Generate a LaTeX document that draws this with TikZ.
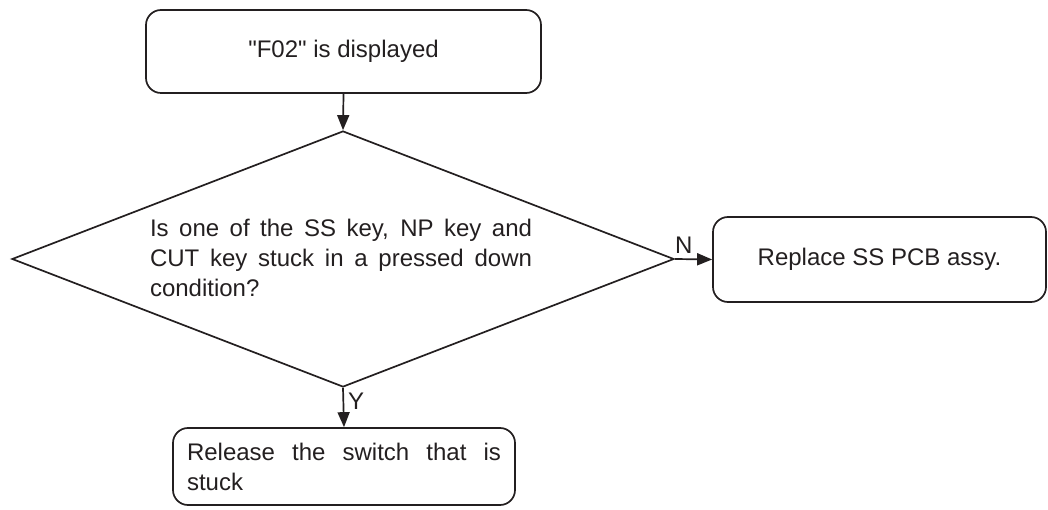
\documentclass[tikz,border=0pt]{standalone}
\usepackage{fontspec}
\newfontfamily\arialfam{Liberation Sans}
\usetikzlibrary{shapes.geometric,arrows.meta}
\definecolor{ink}{HTML}{231F20}
\begin{document}
\begin{tikzpicture}[x=1pt,y=-1pt,
  box/.style={draw=ink, line width=1.7pt, rounded corners=15pt, inner sep=0pt, font=\arialfam\fontsize{24}{30}\selectfont, text=ink},
  txt/.style={font=\arialfam\fontsize{24}{30}\selectfont, text=ink},
  arr/.style={draw=ink, line width=1.7pt, -{Triangle[length=15pt,width=12pt]}},
  just/.style={align=justify, execute at begin node={\hyphenpenalty=10000\tolerance=9999}}]
\useasboundingbox (0,0) rectangle (1048,510);
\node[box, minimum width=395pt, minimum height=83pt] (start) at (343.5,51.5) {"F02" is displayed};
\node[draw=ink, line width=1.7pt, diamond, minimum width=662pt, minimum height=256pt, inner sep=0pt] (dia) at (343,259) {};
\node[txt, just, text width=382pt, inner sep=0pt] (q) at (341,258) {Is one of the SS key, NP key and CUT key stuck in a pressed down condition?};
\node[box, minimum width=333pt, minimum height=85pt] (rep) at (879.5,259.5) {Replace SS PCB assy.};
\node[box, just, text width=314pt, inner xsep=14pt, minimum height=77pt] (rel) at (344,466.5) {Release the switch that is stuck};
\draw[arr] (start.south) -- (dia.north);
\draw[arr] (dia.east) -- (rep.west);
\draw[arr] (dia.south) -- (rel.north);
\node[txt, anchor=south west, inner sep=0pt] (nlab) at ([xshift=0pt,yshift=5pt]dia.east) {N};
\node[txt, anchor=north west, inner sep=0pt] (ylab) at ([xshift=5pt,yshift=-5pt]dia.south) {Y};
\end{tikzpicture}
\end{document}
